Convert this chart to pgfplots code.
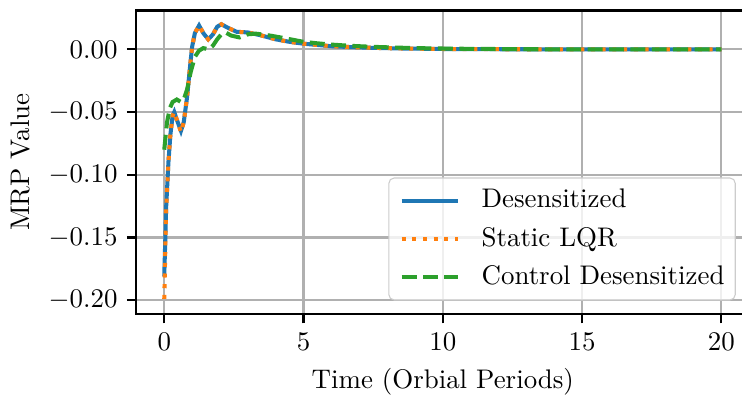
\documentclass[border=0pt]{standalone}
\usepackage{pgfplots}
\pgfplotsset{compat=1.18}
\definecolor{tabblue}{HTML}{1F77B4}
\definecolor{taborange}{HTML}{FF7F0E}
\definecolor{tabgreen}{HTML}{2CA02C}
\definecolor{gridgray}{HTML}{B0B0B0}
\definecolor{leggray}{HTML}{CCCCCC}
\begin{document}
\begin{tikzpicture}
\begin{axis}[
  scale only axis,
  width=227.8pt, height=112.8pt,
  xmin=-1, xmax=21, ymin=-0.211, ymax=0.031,
  xtick={0,5,10,15,20},
  ytick={-0.20,-0.15,-0.10,-0.05,0.00},
  yticklabel style={/pgf/number format/fixed,/pgf/number format/fixed zerofill,/pgf/number format/precision=2},
  scaled y ticks=false,
  tick pos=left, tick align=outside,
  major tick length=3.5pt,
  every tick/.style={black, line width=0.8pt},
  axis line style={line width=0.8pt},
  grid=major,
  major grid style={gridgray, line width=0.8pt},
  xlabel={Time (Orbial Periods)},
  ylabel={MRP Value},
  legend cell align=left,
  legend style={at={(axis description cs:1,0)}, anchor=south east, xshift=-5pt, yshift=5pt,
    draw=leggray, rounded corners=2pt, fill=white, fill opacity=0.8, text opacity=1,
    inner xsep=4pt, inner ysep=2.2pt, row sep=1.7pt,
    nodes={inner xsep=0pt, inner ysep=2pt},
    /tikz/every odd column/.append style={column sep=8pt}},
  legend image code/.code={\draw[#1] (0pt,0pt) -- (21pt,0pt);},
]
\addplot[tabblue, line width=1.5pt] coordinates {
(0,-0.181) (0.07,-0.125) (0.15,-0.090) (0.22,-0.068) (0.30,-0.053) (0.36,-0.050)
(0.45,-0.056) (0.60,-0.065) (0.70,-0.058) (0.82,-0.038) (0.92,-0.015) (1.00,0.002)
(1.10,0.013) (1.25,0.019) (1.40,0.013) (1.58,0.008) (1.75,0.012) (1.90,0.018)
(2.05,0.020) (2.30,0.017) (2.60,0.014) (3.00,0.0135) (3.50,0.011) (4.00,0.008)
(4.50,0.006) (5.00,0.0045) (5.50,0.0035) (6.00,0.0025) (6.70,0.0018) (7.50,0.0012)
(8.50,0.0007) (10,0.0003) (12,0.0001) (15,0) (20,0)
};
\addlegendentry{Desensitized}
\addplot[taborange, line width=1.5pt, dash pattern=on 1.5pt off 2.475pt] coordinates {
(0,-0.199) (0.07,-0.127) (0.15,-0.090) (0.22,-0.068) (0.30,-0.053) (0.36,-0.050)
(0.45,-0.056) (0.60,-0.066) (0.70,-0.058) (0.82,-0.038) (0.92,-0.015) (1.00,0.002)
(1.10,0.013) (1.25,0.019) (1.40,0.013) (1.58,0.008) (1.75,0.012) (1.90,0.018)
(2.05,0.020) (2.30,0.017) (2.60,0.014) (3.00,0.0135) (3.50,0.011) (4.00,0.008)
(4.50,0.006) (5.00,0.0045) (5.50,0.0035) (6.00,0.0025) (6.70,0.0018) (7.50,0.0012)
(8.50,0.0007) (10,0.0003) (12,0.0001) (15,0) (20,0)
};
\addlegendentry{Static LQR}
\addplot[tabgreen, line width=1.5pt, dash pattern=on 5.55pt off 2.4pt] coordinates {
(0,-0.080) (0.10,-0.058) (0.20,-0.047) (0.30,-0.042) (0.45,-0.040) (0.60,-0.042)
(0.70,-0.040) (0.82,-0.032) (0.95,-0.018) (1.10,-0.006) (1.25,-0.001) (1.40,0.001)
(1.60,0.000) (1.75,0.003) (1.90,0.008) (2.05,0.012) (2.20,0.0135) (2.40,0.011)
(2.70,0.0095) (3.00,0.012) (3.30,0.0125) (3.80,0.011) (4.30,0.009) (5.00,0.006)
(5.50,0.0048) (6.00,0.0038) (6.70,0.0028) (7.50,0.002) (8.50,0.0013) (9.50,0.0008)
(11,0.0004) (13,0.0001) (15,0) (20,0)
};
\addlegendentry{Control Desensitized}
\coordinate (BL) at (rel axis cs:0,0);
\coordinate (TR) at (rel axis cs:1,1);
\end{axis}
\pgfresetboundingbox
\path ([xshift=-50.7pt,yshift=-32pt]BL) rectangle ([xshift=-2.7pt,yshift=3.9pt]TR);
\end{tikzpicture}
\end{document}
